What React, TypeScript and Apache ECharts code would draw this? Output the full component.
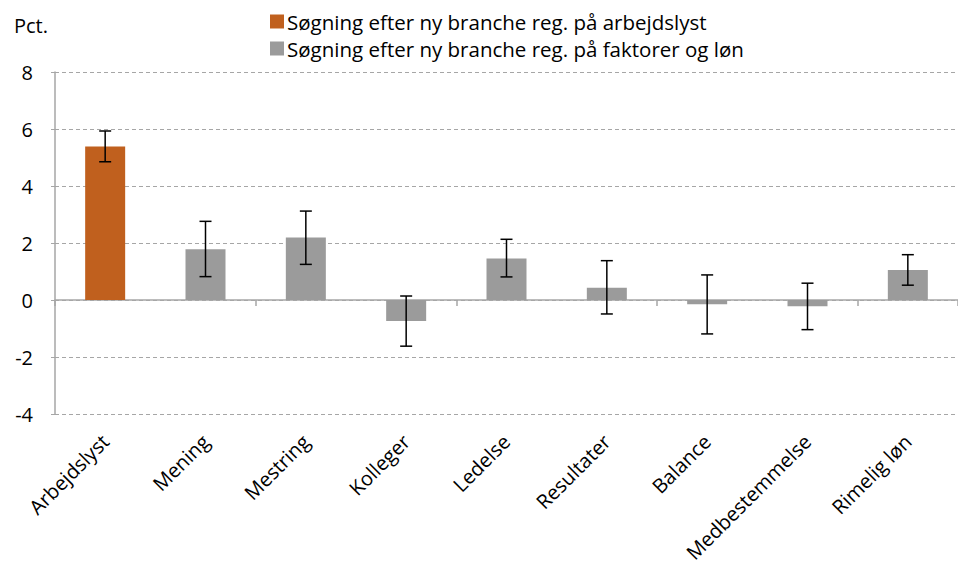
import React, { useEffect, useRef } from "react";
import * as echarts from "echarts";

const categories = ["Arbejdslyst", "Mening", "Mestring", "Kolleger", "Ledelse", "Resultater", "Balance", "Medbestemmelse", "Rimelig løn"];
const seriesNames = ["Søgning efter ny branche reg. på arbejdslyst", "Søgning efter ny branche reg. på faktorer og løn"];
const arbejdslystValues = [5.39, null, null, null, null, null, null, null, null];
const faktorValues = [null, 1.78, 2.19, -0.74, 1.46, 0.43, -0.15, -0.22, 1.05];
const lowerValues = [4.85, 0.82, 1.25, -1.62, 0.81, -0.49, -1.19, -1.04, 0.52];
const upperValues = [5.93, 2.76, 3.12, 0.14, 2.13, 1.38, 0.88, 0.59, 1.59];
const yTicks = [-4, -2, 0, 2, 4, 6, 8];

const FONT = "Open Sans";

export default function App() {
  const ref = useRef<HTMLDivElement>(null);
  useEffect(() => {
    if (!ref.current) return;
    const chart = echarts.init(ref.current, null, { renderer: "svg" });
    const errData = categories.map((_, i) => [i, lowerValues[i], upperValues[i]]);
    chart.setOption({
      animation: false,
      textStyle: { fontFamily: FONT },
      legend: {
        orient: "vertical",
        left: 265,
        top: 6,
        itemWidth: 14,
        itemHeight: 14,
        itemGap: 6,
        icon: "rect",
        textStyle: { fontFamily: FONT, fontSize: 20.5, lineHeight: 19, color: "#000", padding: [0, 0, 0, -2] },
        data: seriesNames,
      },
      graphic: [
        { type: "text", left: 14, top: 15, style: { text: "Pct.", font: `20px '${FONT}'`, fill: "#000" } },
      ],
      grid: { left: 55, right: -3, top: 72, bottom: 155 },
      xAxis: [
        {
          type: "category",
          data: categories,
          position: "bottom",
          axisLine: { show: false, onZero: false },
          axisTick: { show: false },
          axisLabel: { rotate: 45, margin: 24, fontSize: 20, color: "#000", fontFamily: FONT, interval: 0 },
        },
        {
          type: "category",
          data: categories,
          position: "bottom",
          axisLine: { show: true, onZero: true, lineStyle: { color: "#a6a6a6", width: 1.5 } },
          axisTick: { show: true, length: 6, lineStyle: { color: "#a6a6a6", width: 1.5 } },
          axisLabel: { show: false },
        },
      ],
      yAxis: {
        type: "value",
        min: -4,
        max: 8,
        interval: 2,
        axisLine: { show: true, lineStyle: { color: "#a6a6a6", width: 1.5 } },
        axisTick: { show: true, length: 7, lineStyle: { color: "#a6a6a6", width: 1, type: [4, 3] } },
        axisLabel: {
          margin: 22,
          fontSize: 20,
          color: "#000",
          fontFamily: FONT,
          formatter: (v: number) => (yTicks.includes(v) ? String(v) : ""),
        },
        splitLine: { show: true, lineStyle: { color: "#a6a6a6", width: 1.2, type: [4, 3] } },
      },
      series: [
        {
          name: seriesNames[0],
          type: "bar",
          xAxisIndex: 0,
          data: arbejdslystValues,
          barWidth: 40,
          barGap: "-100%",
          itemStyle: { color: "#C0601E" },
        },
        {
          name: seriesNames[1],
          type: "bar",
          xAxisIndex: 0,
          data: faktorValues,
          barWidth: 40,
          barGap: "-100%",
          itemStyle: { color: "#9B9B9B" },
        },
        {
          name: "err",
          type: "custom",
          xAxisIndex: 0,
          data: errData,
          z: 10,
          renderItem: (params: any, api: any) => {
            const x = api.value(0);
            const lo = api.coord([x, api.value(1)]);
            const hi = api.coord([x, api.value(2)]);
            const half = 6;
            const style = { stroke: "#000", lineWidth: 1.5 };
            return {
              type: "group",
              children: [
                { type: "line", shape: { x1: lo[0], y1: lo[1], x2: hi[0], y2: hi[1] }, style },
                { type: "line", shape: { x1: hi[0] - half, y1: hi[1], x2: hi[0] + half, y2: hi[1] }, style },
                { type: "line", shape: { x1: lo[0] - half, y1: lo[1], x2: lo[0] + half, y2: lo[1] }, style },
              ],
            };
          },
        },
      ],
    });
    return () => chart.dispose();
  }, []);
  return (
    <div
      ref={ref}
      style={{ position: "fixed", left: 0, top: 0, width: 958, height: 569, background: "#fff" }}
    />
  );
}
